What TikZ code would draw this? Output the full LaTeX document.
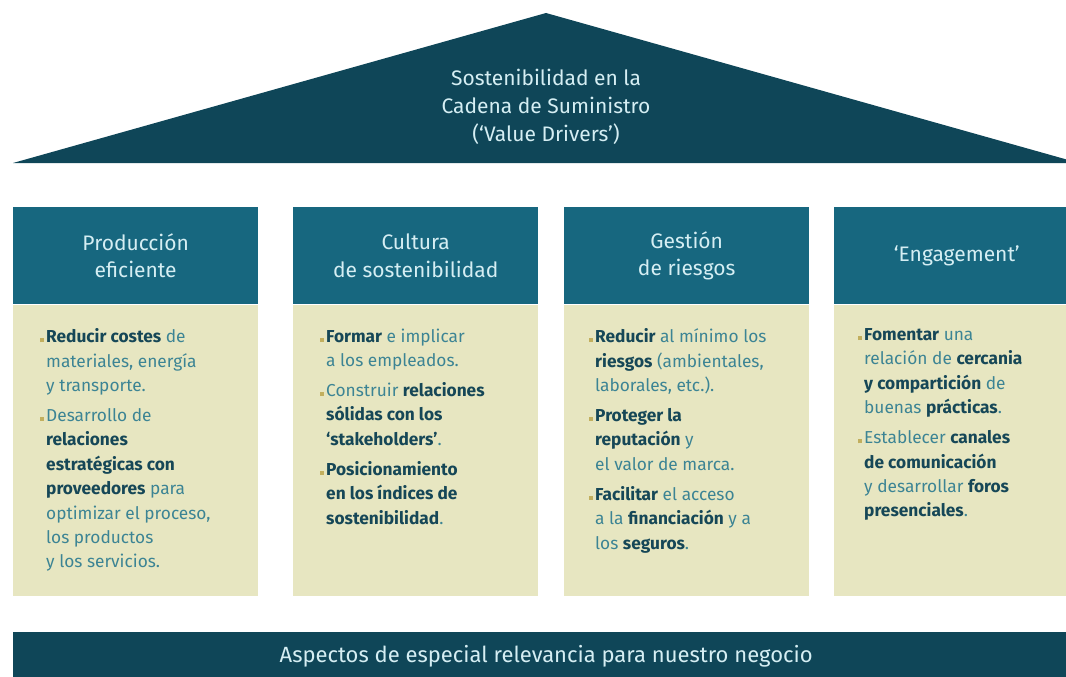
\documentclass[tikz,border=0pt]{standalone}
\usepackage{fontspec}
\setmainfont{Fira Sans}
\usetikzlibrary{positioning}

\definecolor{roofc}{HTML}{0F4658}
\definecolor{headc}{HTML}{17677F}
\definecolor{bodyc}{HTML}{E7E6C1}
\definecolor{headtxt}{HTML}{D5EEF3}
\definecolor{txtc}{HTML}{3C8494}
\definecolor{boldc}{HTML}{164757}
\definecolor{bulc}{HTML}{C2AF5E}

\newcommand\bul{\llap{\textcolor{bulc}{\rule[0.5pt]{4pt}{4pt}}\hspace{2pt}}}
\newcommand\hl[1]{\textbf{\textcolor{boldc}{#1}}}

\begin{document}
\begin{tikzpicture}[x=1pt,y=-1pt,
  head/.style={shape=rectangle,fill=headc,minimum width=245pt,minimum height=97pt,
    inner sep=0pt,text=headtxt,align=center,font=\fontsize{21}{27.5}\selectfont},
  body/.style={shape=rectangle,fill=bodyc,minimum width=245pt,minimum height=291pt,inner sep=0pt},
  list/.style={inner sep=0pt,align=left,text=txtc,font=\fontsize{17.3}{24.4}\selectfont},
  bar/.style={shape=rectangle,fill=roofc,minimum width=1066pt,minimum height=48pt,
    inner sep=0pt,text=headtxt,font=\fontsize{22}{26}\selectfont}
]
  \useasboundingbox (0,0) rectangle (1066,677);
  \clip (0,0) rectangle (1066,677);

  % roof
  \fill[roofc] (13,163) -- (546,13) -- (1079,163) -- cycle;
  \node[align=center,text=headtxt,font=\fontsize{21}{28}\selectfont] (roof) at (546,107)
    {Sostenibilidad en la\\Cadena de Suministro\\(‘Value Drivers’)};

  % columns
  \node[head,anchor=north west] (hProd) at (13,207)  {Producción\\eficiente};
  \node[head,anchor=north west] (hCult) at (293,207) {Cultura\\de sostenibilidad};
  \node[head,anchor=north west] (hRies) at (564,207) {Gestión\\de riesgos};
  \node[head,anchor=north west] (hEng)  at (834,207) {‘Engagement’};

  \node[body,below=0pt of hProd] (bProd) {};
  \node[body,below=0pt of hCult] (bCult) {};
  \node[body,below=0pt of hRies] (bRies) {};
  \node[body,below=0pt of hEng]  (bEng)  {};

  \node[list,below right=24pt and 33pt of bProd.north west] (lProd) {%
    \bul\hl{Reducir costes} de\\
    materiales, energía\\
    y transporte.\\[5.6pt]
    \bul Desarrollo de\\
    \hl{relaciones}\\
    \hl{estratégicas con}\\
    \hl{proveedores} para\\
    optimizar el proceso,\\
    los productos\\
    y los servicios.};

  \node[list,below right=24pt and 33pt of bCult.north west] (lCult) {%
    \bul\hl{Formar} e implicar\\
    a los empleados.\\[5.6pt]
    \bul Construir \hl{relaciones}\\
    \hl{sólidas con los}\\
    \hl{‘stakeholders’}.\\[5.6pt]
    \bul\hl{Posicionamiento}\\
    \hl{en los índices de}\\
    \hl{sostenibilidad}.};

  \node[list,below right=24pt and 31pt of bRies.north west] (lRies) {%
    \bul\hl{Reducir} al mínimo los\\
    \hl{riesgos} (ambientales,\\
    laborales, etc.).\\[5.6pt]
    \bul\hl{Proteger la}\\
    \hl{reputación} y\\
    el valor de marca.\\[5.6pt]
    \bul\hl{Facilitar} el acceso\\
    a la \hl{financiación} y a\\
    los \hl{seguros}.};

  \node[list,below right=24pt and 30pt of bEng.north west] (lEng) {%
    \bul\hl{Fomentar} una\\
    relación de \hl{cercania}\\
    \hl{y compartición} de\\
    buenas \hl{prácticas}.\\[5.6pt]
    \bul Establecer \hl{canales}\\
    \hl{de comunicación}\\
    y desarrollar \hl{foros}\\
    \hl{presenciales}.};

  % base
  \node[bar,anchor=north west] (base) at (13,632)
    {Aspectos de especial relevancia para nuestro negocio};
\end{tikzpicture}
\end{document}
